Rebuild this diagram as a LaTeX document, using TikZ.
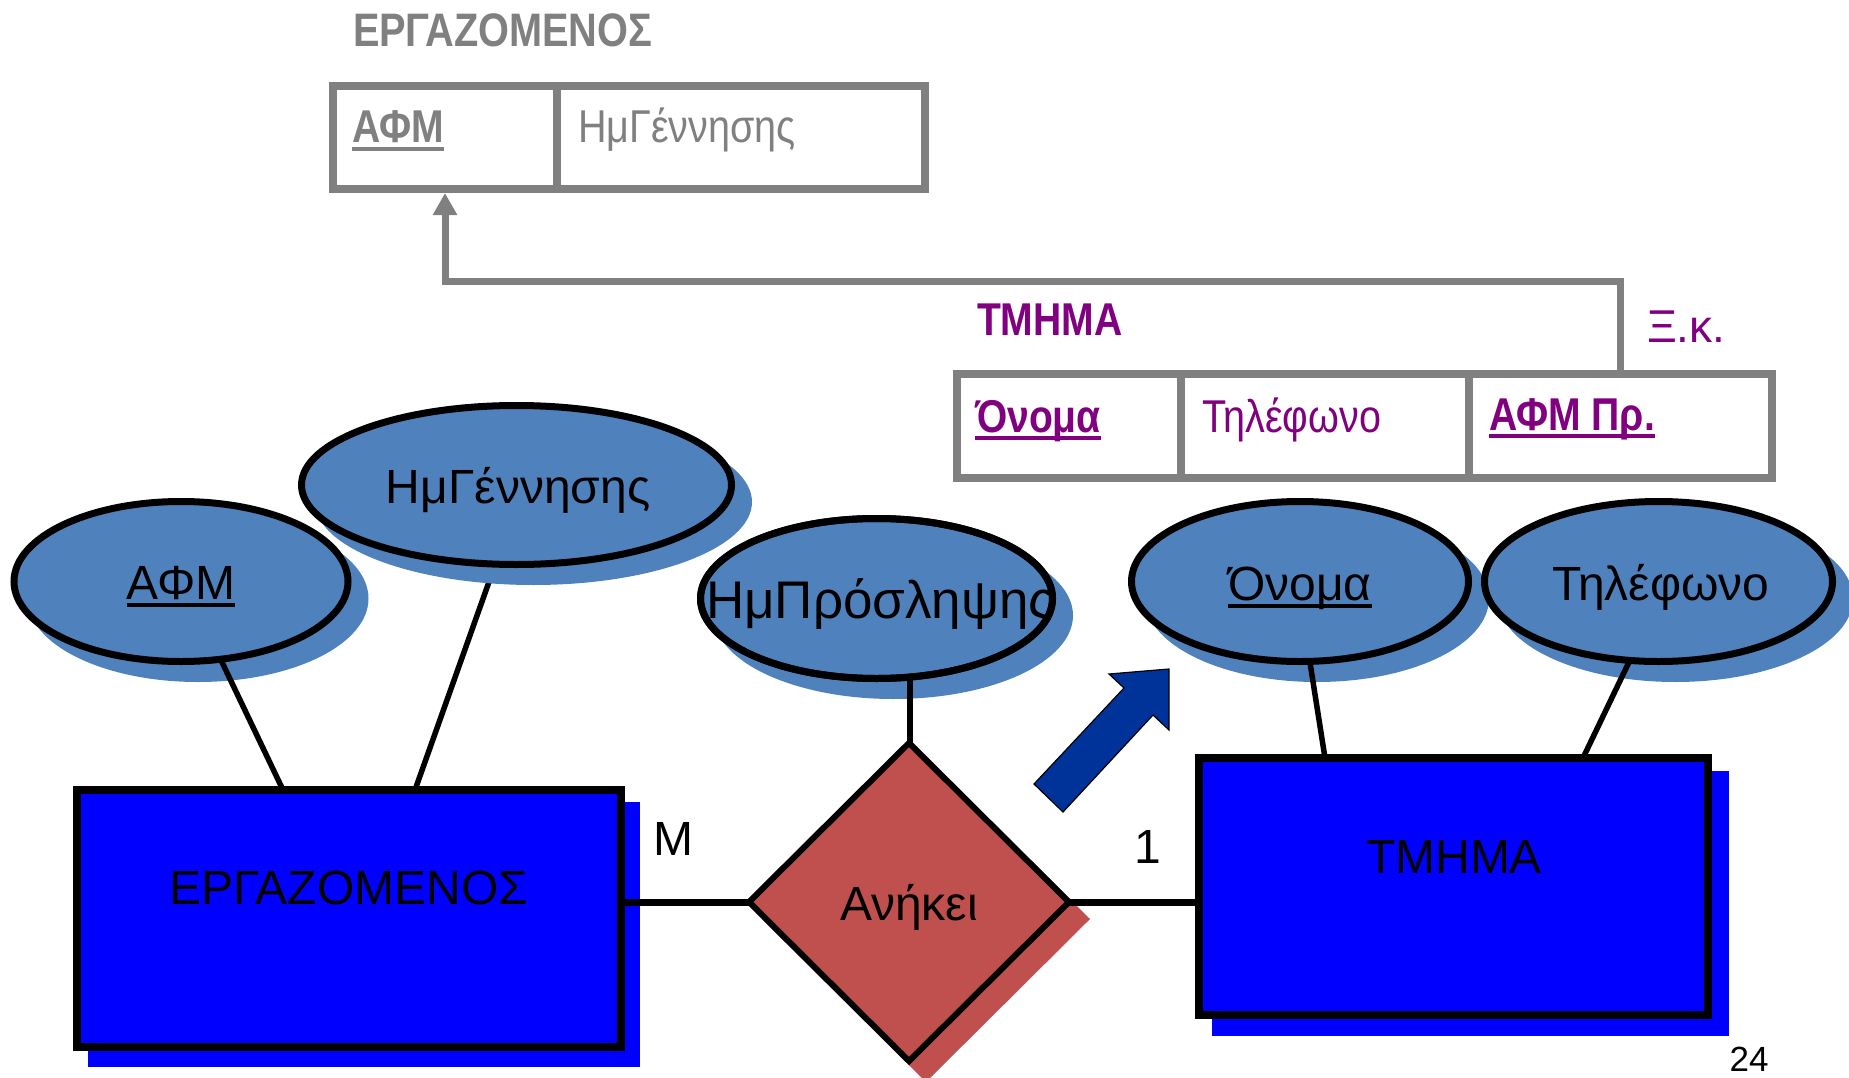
\documentclass[tikz,border=0pt]{standalone}
\usepackage{fontspec}
\setmainfont{Liberation Sans}
\usepackage{graphicx}
\usetikzlibrary{shapes.geometric,calc,arrows.meta}
\pgfdeclarelayer{bg}
\pgfsetlayers{bg,main}
\definecolor{ellblue}{HTML}{4F81BD}
\definecolor{entblue}{HTML}{0000FF}
\definecolor{relred}{HTML}{C0504D}
\definecolor{arrblue}{HTML}{003399}
\definecolor{grayc}{HTML}{808080}
\definecolor{purp}{HTML}{800080}
\newcommand\myul[1]{\setbox0=\hbox{#1}\rlap{\rule[-8pt]{\wd0}{4pt}}\box0}
\begin{document}
\begin{tikzpicture}[x=1pt,y=-1pt,
  ell/.style={ellipse, draw, line width=7, fill=ellblue, inner sep=0, outer sep=0},
  ellsh/.style={ellipse, fill=ellblue, inner sep=0, outer sep=0},
  ent/.style={rectangle, draw, line width=8, fill=entblue, inner sep=0, outer sep=0},
  entsh/.style={rectangle, fill=entblue, inner sep=0, outer sep=0},
  cell/.style={rectangle, draw=grayc, line width=8, inner sep=0},
  conn/.style={line width=5.5, draw=black},
  relconn/.style={line width=7, draw=black},
  lbl/.style={inner sep=0, outer sep=0, font=\fontsize{48}{56}\selectfont},
  boxreg/.style={lbl, anchor=base west, font=\fontsize{46}{54}\selectfont},
  boxbold/.style={lbl, anchor=base west, font=\fontsize{46}{54}\selectfont\bfseries},
]
\useasboundingbox (0,0) rectangle (1849,1078);

% ---------- relational schema: ΕΡΓΑΖΟΜΕΝΟΣ ----------
\node[boxbold, text=grayc, font=\fontsize{47}{56}\selectfont\bfseries] (t1) at (353,47) {\scalebox{0.845}[1]{ΕΡΓΑΖΟΜΕΝΟΣ}};
\node[cell, minimum width=224, minimum height=103] (eA) at (445,137.5) {};
\node[cell, minimum width=368, minimum height=103] (eB) at (741,137.5) {};
\node[boxbold, text=grayc] (eAt) at (352,143) {\myul{\scalebox{0.85}[1]{ΑΦΜ}}};
\node[boxreg, text=grayc] (eBt) at (578,143) {\scalebox{0.86}[1]{ΗμΓέννησης}};

% ---------- relational schema: ΤΜΗΜΑ ----------
\node[boxbold, text=purp] (t2) at (977,335) {\scalebox{0.85}[1]{ΤΜΗΜΑ}};
\node[boxreg, text=purp] (xk) at (1647,342) {Ξ.κ.};
\node[cell, minimum width=224, minimum height=103.5] (tA) at (1069,425.75) {};
\node[cell, minimum width=288, minimum height=103.5] (tB) at (1325,425.75) {};
\node[cell, minimum width=303, minimum height=103.5] (tC) at (1620.5,425.75) {};
\node[boxbold, text=purp] (tAt) at (975,432) {\myul{\scalebox{0.85}[1]{Όνομα}}};
\node[boxreg, text=purp] (tBt) at (1202,432) {\scalebox{0.86}[1]{Τηλέφωνο}};
\node[boxbold, text=purp] (tCt) at (1489,430) {\myul{\scalebox{0.85}[1]{ΑΦΜ Πρ.}}};

% foreign key arrow
\coordinate (turn) at (1621,281);
\draw[grayc, line width=7, -{Triangle[length=22pt,width=23pt]}] (tC.north) -- (tC.north |- turn) -| (eA.south);

% ---------- ER diagram ----------
\node[ell, minimum width=334, minimum height=160] (afm) at (181,581.5) {};
\node[ell, minimum width=430, minimum height=159] (gen) at (516.5,485) {};
\node[ell, minimum width=352, minimum height=160] (prs) at (876.5,598.5) {};
\node[ell, minimum width=337, minimum height=160] (ono) at (1300,581.5) {};
\node[ell, minimum width=348, minimum height=160] (tel) at (1658.5,581.5) {};
\node[ent, minimum width=544, minimum height=257] (erg) at (349,918.5) {};
\node[ent, minimum width=509, minimum height=257] (tm) at (1453.5,886.5) {};
\node[diamond, draw, line width=6, fill=relred, minimum width=320, minimum height=318, inner sep=0, outer sep=0] (rel) at (909,902) {};

\begin{pgfonlayer}{bg}
  \draw[conn] (gen.-105) -- ($(erg.north west)+(338,0)$);
  \node[ellsh, minimum width=341, minimum height=167] (afm-sh) at (198,598.5) {};
  \node[ellsh, minimum width=437, minimum height=166] (gen-sh) at (533.5,502) {};
  \node[ellsh, minimum width=359, minimum height=167] (prs-sh) at (893.5,615.5) {};
  \node[ellsh, minimum width=344, minimum height=167] (ono-sh) at (1317,598.5) {};
  \node[ellsh, minimum width=355, minimum height=167] (tel-sh) at (1675.5,598.5) {};
  \node[entsh, minimum width=552, minimum height=265] (erg-sh) at (364,934.5) {};
  \node[entsh, minimum width=517, minimum height=265] (tm-sh) at (1470.5,903.5) {};
  \node[diamond, fill=relred, minimum width=328, minimum height=326, inner sep=0, outer sep=0] (rel-sh) at (926,919) {};
\end{pgfonlayer}

% connectors
\draw[conn] (afm.-63) -- ($(erg.north west)+(206,0)$);
\draw[conn] (prs.-67.5) -- (prs.-67.5 |- rel.north);
\draw[conn] (ono.-83.6) -- ($(tm.north west)+(126,0)$);
\draw[conn] (tel.-110.5) -- ($(tm.north west)+(384,0)$);
\draw[relconn] (rel.west -| erg.east) -- (rel.west);
\draw[relconn] (rel.east) -- (rel.east -| tm.west);

% blue block arrow
\filldraw[fill=arrblue, draw=black, line width=1.2] (1169,669) -- (1109,674) -- (1124,688) -- (1034,784) -- (1063,812) -- (1153,715) -- (1169,730) -- cycle;

% labels
\node[lbl, anchor=base] (afm-t) at (181,599) {\myul{ΑΦΜ}};
\node[lbl, anchor=base] (gen-t) at (518,503) {ΗμΓέννησης};
\begin{scope}
  \clip (prs.center) ellipse [x radius=176, y radius=80];
  \node[lbl, anchor=base west, font=\fontsize{53}{60}\selectfont] (prs-t) at (706,618) {ΗμΠρόσληψης};
\end{scope}
\draw[line width=7] (prs.center) ellipse [x radius=176, y radius=80];
\node[lbl, anchor=base] (ono-t) at (1300,600) {\myul{Όνομα}};
\node[lbl, anchor=base] (tel-t) at (1661,600) {Τηλέφωνο};
\node[lbl, anchor=base] (erg-t) at (349,904) {ΕΡΓΑΖΟΜΕΝΟΣ};
\node[lbl, anchor=base] (tm-t) at (1454,873) {ΤΜΗΜΑ};
\node[lbl, anchor=base] (rel-t) at (909,920) {Ανήκει};
\node[lbl, anchor=base] (m-t) at (673,855) {M};
\node[lbl, anchor=base] (one-t) at (1148,863) {1};
\node[lbl, anchor=base, font=\fontsize{35}{40}\selectfont] (pg) at (1749,1071) {24};
\end{tikzpicture}
\end{document}
